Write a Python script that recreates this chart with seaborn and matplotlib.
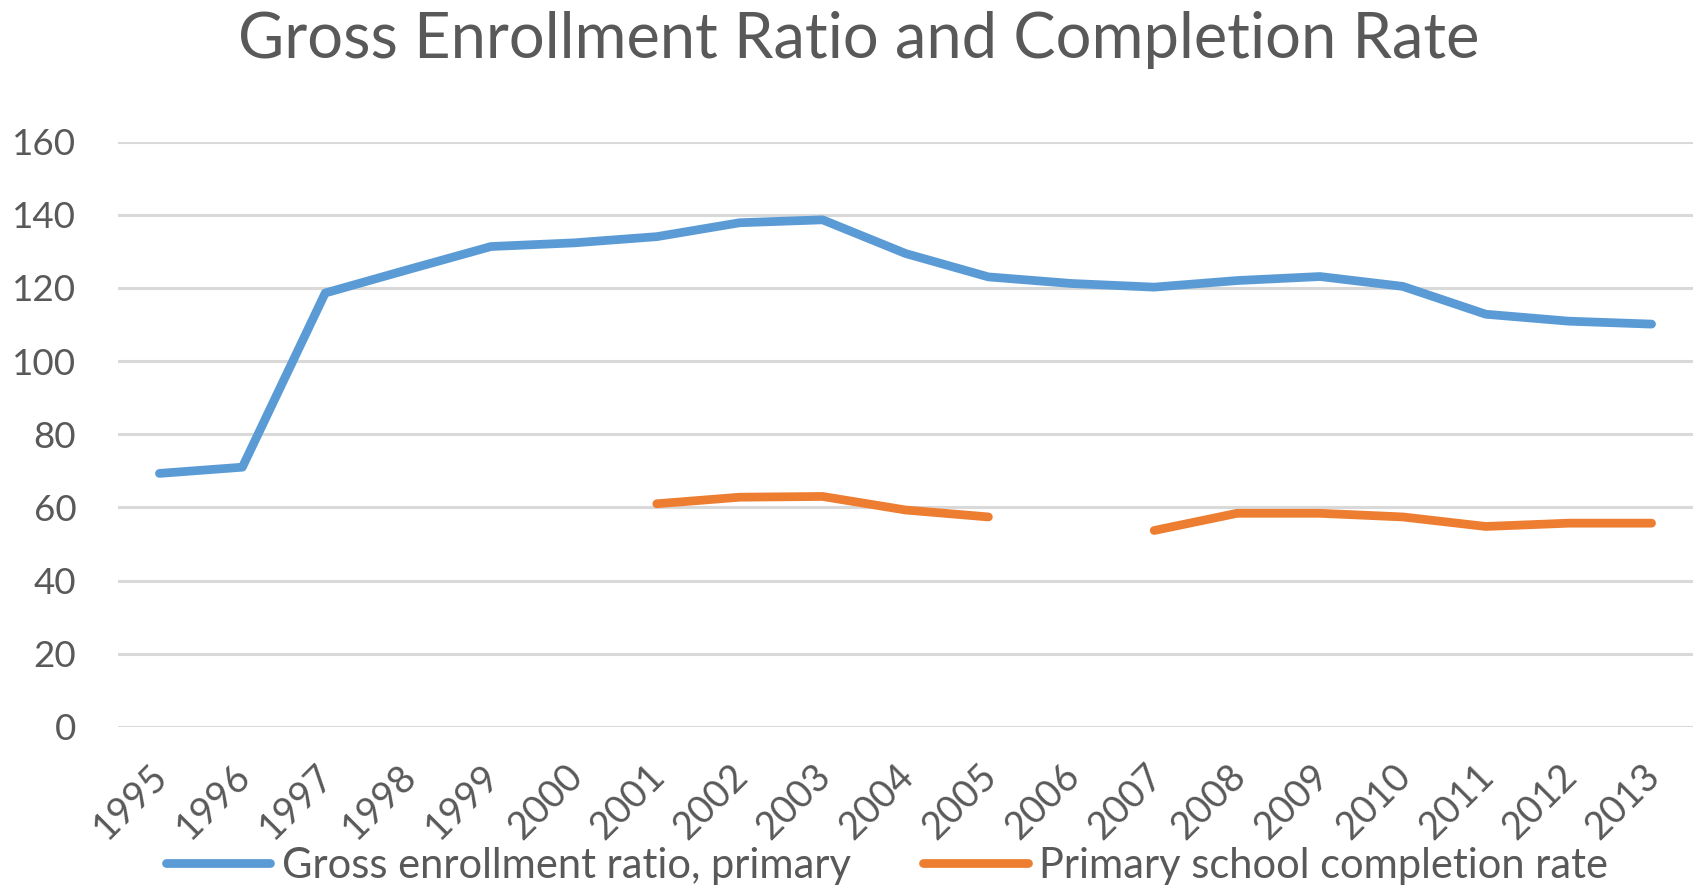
import matplotlib
matplotlib.use("Agg")
import matplotlib.pyplot as plt
import matplotlib.transforms as mtransforms
import seaborn as sns
import numpy as np
import pandas as pd

years = list(range(1995, 2014))
gross_enrollment = [69.3, 71.0, 118.6, 125.0, 131.3, 132.3, 134.0, 137.8, 138.6,
                    129.4, 123.0, 121.2, 120.2, 122.0, 123.1, 120.4, 112.8, 110.9, 110.1]
completion_rate = [np.nan, np.nan, np.nan, np.nan, np.nan, np.nan, 61.0, 62.8, 63.0,
                   59.3, 57.4, np.nan, 53.7, 58.4, 58.4, 57.4, 54.8, 55.7, 55.7]
yticks = [0, 20, 40, 60, 80, 100, 120, 140, 160]
title = "Gross Enrollment Ratio and Completion Rate"
label_gross = "Gross enrollment ratio, primary"
label_comp = "Primary school completion rate"

BLUE = "#5B9BD5"
ORANGE = "#ED7D31"
GREY_TXT = "#595959"

sns.set_theme(style="white")
plt.rcParams['font.family'] = ['Lato', 'DejaVu Sans']

fig = plt.figure(figsize=(16.94, 8.85), dpi=100)
ax = fig.add_axes([118 / 1694, 1 - 727 / 885, (1693 - 118) / 1694, (727 - 141.5) / 885])

df = pd.DataFrame({"year": years, "gross": gross_enrollment, "comp": completion_rate})

sns.lineplot(data=df, x="year", y="gross", ax=ax, color=BLUE, linewidth=6.3,
             solid_capstyle="round", label=label_gross, legend=False)

# completion rate drawn in contiguous runs (gap where data is missing)
comp = df.dropna(subset=["comp"]).copy()
comp["seg"] = (comp["year"].diff() != 1).cumsum()
first = True
for _, seg in comp.groupby("seg"):
    sns.lineplot(data=seg, x="year", y="comp", ax=ax, color=ORANGE, linewidth=6.3,
                 solid_capstyle="round", label=label_comp if first else None, legend=False)
    first = False

ax.set_xlim(1994.5, 2013.5)
ax.set_ylim(0, 160)
ax.set_yticks(yticks)
ax.set_xticks(years)
ax.set_xticklabels([str(y) for y in years], rotation=45, ha="right", rotation_mode="anchor")
ax.set_xlabel("")
ax.set_ylabel("")
ax.grid(axis="y", color="#D9D9D9", linewidth=2.2)
ax.grid(axis="x", visible=False)
ax.set_axisbelow(True)
for s in ax.spines.values():
    s.set_visible(False)
ax.tick_params(axis="y", length=0, pad=30, labelsize=26.5, labelcolor=GREY_TXT)
ax.tick_params(axis="x", length=0, pad=22, labelsize=27.5, labelcolor=GREY_TXT)
shift = mtransforms.ScaledTranslation(-10 / 100, 0, fig.dpi_scale_trans)
for lbl in ax.get_xticklabels():
    lbl.set_transform(lbl.get_transform() + shift)

fig.text(859 / 1694, 1 - 58 / 885, title, ha="center", va="baseline",
         fontsize=45.5, color=GREY_TXT)

handles, labels = ax.get_legend_handles_labels()
leg = fig.legend(handles, labels, loc="center", bbox_to_anchor=(887 / 1694, 1 - 866 / 885),
                 ncol=2, frameon=False, fontsize=30, handlelength=2.5, handletextpad=0.27,
                 columnspacing=1.75, labelcolor=GREY_TXT)

fig.savefig("out.png", dpi=100)
